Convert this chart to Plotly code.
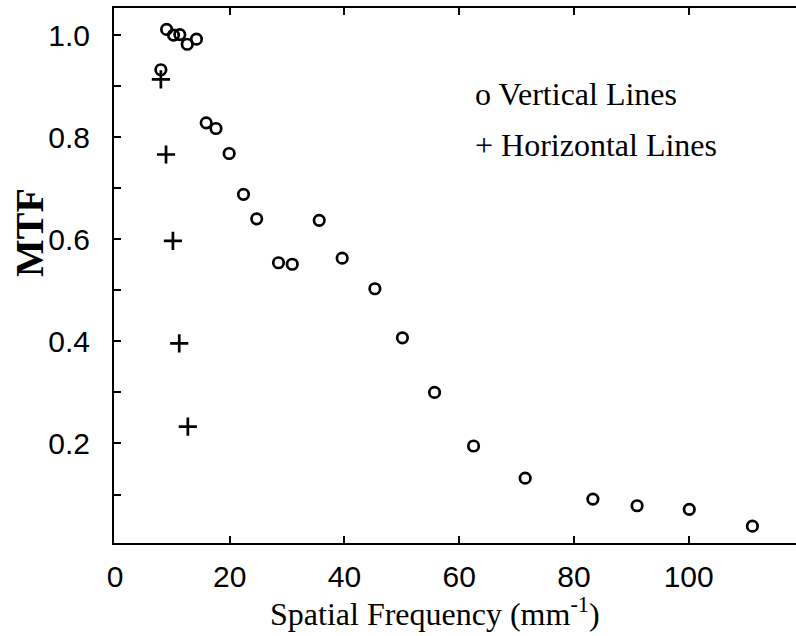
import plotly.graph_objects as go

# Vertical lines (open circles)
vert_freq = [8.0, 9.0, 10.2, 11.3, 12.6, 14.2, 15.9, 17.6, 19.9, 22.4, 24.7, 28.5,
             30.9, 35.6, 39.6, 45.3, 50.1, 55.7, 62.5, 71.5, 83.3, 91.0, 100.1, 111.1]
vert_mtf = [0.932, 1.011, 1.000, 1.001, 0.982, 0.992, 0.828, 0.817, 0.768, 0.688, 0.640, 0.554,
            0.551, 0.637, 0.563, 0.503, 0.407, 0.300, 0.195, 0.132, 0.091, 0.078, 0.071, 0.038]

# Horizontal lines (plus signs)
horiz_freq = [8.0, 8.9, 10.1, 11.2, 12.7]
horiz_mtf = [0.913, 0.766, 0.597, 0.396, 0.233]

x_ticks = [0, 20, 40, 60, 80, 100]
y_ticks = [0.2, 0.4, 0.6, 0.8, 1.0]
y_ticktext = ["0.2", "0.4", "0.6", "0.8", "1.0"]
y_minor_ticks = [0.1, 0.3, 0.5, 0.7, 0.9]

SANS = "Liberation Sans, Arial, sans-serif"
SERIF = "Liberation Serif, Times New Roman, serif"

fig = go.Figure()
fig.add_trace(go.Scatter(
    x=vert_freq, y=vert_mtf, mode="markers", name="Vertical Lines",
    marker=dict(symbol="circle-open", size=10.5, color="black", line=dict(width=2.7, color="black")),
    cliponaxis=False,
))
fig.add_trace(go.Scatter(
    x=horiz_freq, y=horiz_mtf, mode="markers", name="Horizontal Lines",
    marker=dict(symbol="cross-thin-open", size=13, color="black", line=dict(width=2.7, color="black")),
    cliponaxis=False,
))

L, R, T, B = 114, 796, 8, 543
W, H = 796, 636

def px(xp):
    return (xp - L) / (R - L)

def py(yp):
    return 1 - (yp - T) / (B - T)

fig.update_layout(
    width=W, height=H,
    margin=dict(l=L, r=W - R, t=T, b=H - B, pad=0),
    paper_bgcolor="white", plot_bgcolor="white",
    showlegend=False,
    xaxis=dict(
        range=[-0.17, 118.7], tickvals=x_ticks, ticktext=[str(v) for v in x_ticks],
        ticks="inside", ticklen=7, tickwidth=2, tickcolor="black",
        showline=True, linewidth=2, linecolor="black", mirror="ticks",
        showgrid=False, zeroline=False,
        tickfont=dict(family=SANS, size=30, color="black"),
        ticklabelstandoff=6,
    ),
    yaxis=dict(
        range=[0.005, 1.053], tickvals=y_ticks, ticktext=y_ticktext,
        ticks="inside", ticklen=7, tickwidth=2, tickcolor="black",
        minor=dict(tickvals=y_minor_ticks, ticks="inside", ticklen=7, tickwidth=2,
                   tickcolor="black", showgrid=False),
        showline=True, linewidth=2, linecolor="black", mirror=False,
        showgrid=False, zeroline=False,
        tickfont=dict(family=SANS, size=30, color="black"),
        ticklabelstandoff=16,
    ),
    annotations=[
        dict(text="o Vertical Lines", xref="paper", yref="paper", x=px(473), y=py(94),
             xanchor="left", yanchor="middle", showarrow=False,
             font=dict(family=SERIF, size=32, color="black")),
        dict(text="+ Horizontal Lines", xref="paper", yref="paper", x=px(473), y=py(145),
             xanchor="left", yanchor="middle", showarrow=False,
             font=dict(family=SERIF, size=32, color="black")),
        dict(text="<b>MTF</b>", xref="paper", yref="paper", x=px(30), y=py(233),
             xanchor="center", yanchor="middle", showarrow=False, textangle=-90,
             font=dict(family=SERIF, size=40, color="black")),
        dict(text="Spatial Frequency (mm<sup>-1</sup>)", xref="paper", yref="paper",
             x=px(435), y=py(612), xanchor="center", yanchor="middle", showarrow=False,
             font=dict(family=SERIF, size=32, color="black")),
    ],
)

fig.write_html("out.html")
